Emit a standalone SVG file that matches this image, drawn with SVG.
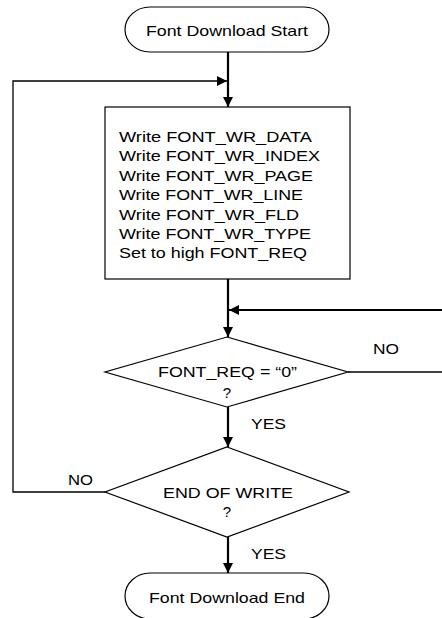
<svg xmlns="http://www.w3.org/2000/svg" width="442" height="618" viewBox="0 0 442 618">
<defs>
<style>
text{font-family:"Liberation Sans",Arial,sans-serif;font-size:15px;fill:#000}
.shape{fill:#fff;stroke:#000;stroke-width:1.2}
.flow{fill:none;stroke:#000;stroke-width:2.2}
.loop{fill:none;stroke:#000;stroke-width:1.3}
</style>
<marker id="ah" viewBox="0 0 10 10" refX="10" refY="5" markerWidth="10" markerHeight="10" markerUnits="userSpaceOnUse" orient="auto">
<path d="M0,0 L10,5 L0,10 z" fill="#000"/>
</marker>
</defs>
<rect width="442" height="618" fill="#fff"/>
<g id="connectors">
<path class="flow" d="M228,52 V107" marker-end="url(#ah)"/>
<path class="loop" d="M105,492 H13 V81 H227" marker-end="url(#ah)"/>
<path class="flow" d="M228,279 V337" marker-end="url(#ah)"/>
<path class="flow" d="M442,310 H229" marker-end="url(#ah)"/>
<path class="loop" d="M348,372 H442"/>
<path class="flow" d="M228,407 V447" marker-end="url(#ah)"/>
<path class="flow" d="M228,537 V573" marker-end="url(#ah)"/>
<text x="373" y="354" textLength="26" lengthAdjust="spacingAndGlyphs">NO</text>
<text x="251" y="429" textLength="35" lengthAdjust="spacingAndGlyphs">YES</text>
<text x="68" y="485" textLength="25" lengthAdjust="spacingAndGlyphs">NO</text>
<text x="251" y="559" textLength="35" lengthAdjust="spacingAndGlyphs">YES</text>
</g>
<g id="start">
<rect class="shape" x="125" y="7" width="204" height="45" rx="25" ry="22.5"/>
<text x="146" y="36" textLength="162" lengthAdjust="spacingAndGlyphs">Font Download Start</text>
</g>
<g id="write">
<rect class="shape" x="105" y="107" width="245" height="172"/>
<text x="119" y="142" textLength="193" lengthAdjust="spacingAndGlyphs">Write FONT_WR_DATA</text>
<text x="119" y="161.4" textLength="201" lengthAdjust="spacingAndGlyphs">Write FONT_WR_INDEX</text>
<text x="119" y="180.8" textLength="194" lengthAdjust="spacingAndGlyphs">Write FONT_WR_PAGE</text>
<text x="119" y="200.2" textLength="184" lengthAdjust="spacingAndGlyphs">Write FONT_WR_LINE</text>
<text x="119" y="219.6" textLength="180" lengthAdjust="spacingAndGlyphs">Write FONT_WR_FLD</text>
<text x="119" y="239" textLength="192" lengthAdjust="spacingAndGlyphs">Write FONT_WR_TYPE</text>
<text x="119" y="258.4" textLength="188" lengthAdjust="spacingAndGlyphs">Set to high FONT_REQ</text>
</g>
<g id="req">
<polygon class="shape" points="227,337 348,372 227,407 105,372"/>
<text x="158" y="377" textLength="139" lengthAdjust="spacingAndGlyphs">FONT_REQ = “0”</text>
<text x="227" y="397.5" text-anchor="middle">?</text>
</g>
<g id="endwrite">
<polygon class="shape" points="227,447 349,492 227,537 105,492"/>
<text x="163" y="497.5" textLength="130" lengthAdjust="spacingAndGlyphs">END OF WRITE</text>
<text x="227" y="517" text-anchor="middle">?</text>
</g>
<g id="end">
<rect class="shape" x="125" y="573" width="204" height="46" rx="25" ry="23"/>
<text x="149" y="603" textLength="156" lengthAdjust="spacingAndGlyphs">Font Download End</text>
</g>
</svg>
